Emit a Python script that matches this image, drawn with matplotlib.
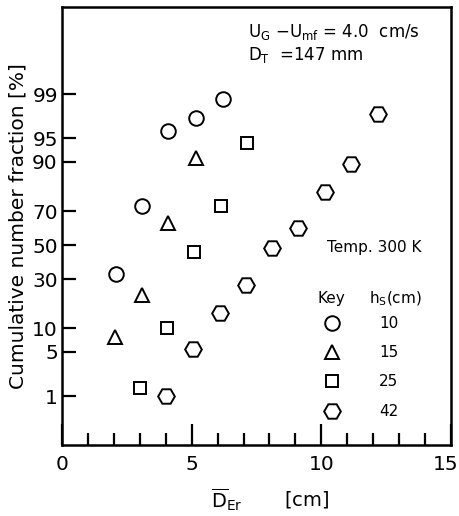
import numpy as np
import matplotlib
matplotlib.use('Agg')
import matplotlib.pyplot as plt
from matplotlib.transforms import ScaledTranslation
from statistics import NormalDist

# Data: mean bubble size vs cumulative number fraction
x_h10 = [2.1, 3.1, 4.1, 5.15, 6.2]
y_h10 = [33.0, 72.5, 96.0, 97.5, 98.8]

x_h15 = [2.05, 3.1, 4.1, 5.15]
y_h15 = [7.8, 22.0, 63.5, 91.0]

x_h25 = [3.0, 4.05, 5.1, 6.15, 7.15]
y_h25 = [1.4, 10.2, 46.0, 72.5, 94.2]

x_h42 = [4.0, 5.05, 6.1, 7.1, 8.1, 9.1, 10.15, 11.15, 12.2]
y_h42 = [1.0, 5.5, 14.8, 27.0, 48.0, 60.5, 79.5, 89.5, 97.8]

y_ticks = [1, 5, 10, 30, 50, 70, 90, 95, 99]
key_labels = ['10', '15', '25', '42']
key_markers = ['o', '^', 's', 'H']

nd = NormalDist()


def _p2z(p):
    if not np.isfinite(p):
        return np.nan
    return nd.inv_cdf(min(max(p / 100.0, 1e-9), 1 - 1e-9))


def _z2p(z):
    if not np.isfinite(z):
        return np.nan
    return nd.cdf(z) * 100.0


_ppf = np.vectorize(_p2z, otypes=[float])
_cdf = np.vectorize(_z2p, otypes=[float])


def forward(p):
    return _ppf(np.asarray(p, dtype=float))


def inverse(z):
    return _cdf(np.asarray(z, dtype=float))


plt.rcParams['font.family'] = 'DejaVu Sans'
plt.rcParams['mathtext.fontset'] = 'dejavusans'

fig = plt.figure(figsize=(4.59, 5.16), dpi=100)
ax = fig.add_axes([0.135, 0.1376, 0.8476, 0.8488])

mk = dict(linestyle='none', markerfacecolor='white', markeredgecolor='black',
          markeredgewidth=1.4, clip_on=False)
ax.plot(x_h10, y_h10, marker='o', markersize=10.5, **mk)
ax.plot(x_h15, y_h15, marker='^', markersize=10.5, **mk)
ax.plot(x_h25, y_h25, marker='s', markersize=9, **mk)
ax.plot(x_h42, y_h42, marker='H', markersize=12, **mk)

ax.set_yscale('function', functions=(forward, inverse))
ax.set_xlim(0, 15)
ax.set_ylim(float(inverse(-3.08)), float(inverse(3.667)))

ax.set_yticks(y_ticks)
ax.set_yticklabels([str(t) for t in y_ticks])
ax.yaxis.set_minor_locator(matplotlib.ticker.NullLocator())
ax.set_xticks([0, 5, 10, 15])
ax.set_xticks(np.arange(1, 15), minor=True)

ax.tick_params(axis='both', which='major', direction='in', labelsize=14.5, width=1.6)
ax.tick_params(axis='x', which='major', length=15, pad=7)
ax.tick_params(axis='x', which='minor', direction='in', length=9, width=1.6)
ax.tick_params(axis='y', which='major', length=10, pad=3)
# last x label sits right at the figure edge, as in the original
lab15 = ax.xaxis.get_major_ticks()[-1].label1
lab15.set_horizontalalignment('right')
lab15.set_transform(lab15.get_transform() + ScaledTranslation(5 / 72, 0, fig.dpi_scale_trans))

for s in ax.spines.values():
    s.set_linewidth(1.8)

ax.set_ylabel('Cumulative number fraction [%]', fontsize=14.5, labelpad=3)
ax.set_xlabel(r'$\overline{\mathrm{D}}_{\mathrm{Er}}$       [cm]', fontsize=14)
ax.xaxis.set_label_coords(0.535, -0.095)

ax.text(0.478, 0.9315, r'U$_\mathrm{G}$ $-$U$_\mathrm{mf}$ = 4.0  cm/s',
        transform=ax.transAxes, fontsize=12)
ax.text(0.478, 0.879, r'D$_\mathrm{T}$  =147 mm', transform=ax.transAxes, fontsize=12)
ax.text(0.681, 0.441, 'Temp. 300 K', transform=ax.transAxes, fontsize=11)
ax.text(0.658, 0.324, 'Key', transform=ax.transAxes, fontsize=11)
ax.text(0.789, 0.324, r'h$_\mathrm{S}$(cm)', transform=ax.transAxes, fontsize=11)

key_y = [0.2785, 0.2123, 0.146, 0.0776]
key_size = [10.5, 10.5, 9, 12]
for m, lab, yy, ms in zip(key_markers, key_labels, key_y, key_size):
    ax.plot([0.694], [yy], marker=m, markersize=ms, transform=ax.transAxes, **mk)
    ax.text(0.8406, yy, lab, transform=ax.transAxes, fontsize=11,
            ha='center', va='center')

fig.savefig('out.png', dpi=100)
